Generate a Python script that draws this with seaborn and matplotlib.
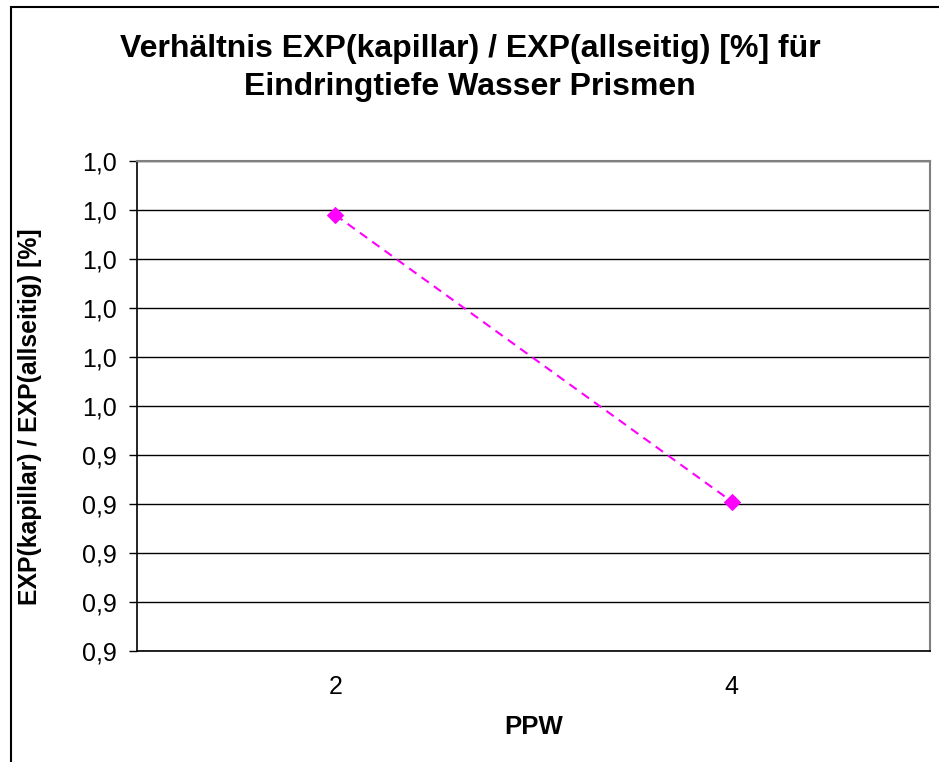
import matplotlib
matplotlib.use("Agg")
import matplotlib.pyplot as plt
import matplotlib.patches as patches
import seaborn as sns
import pandas as pd

# data
ppw = ["2", "4"]
ratio = [0.989, 0.9305]
y_ticks = [i / 100 for i in range(90, 101)]

title = "Verhältnis EXP(kapillar) / EXP(allseitig) [%] für\nEindringtiefe Wasser Prismen"
x_label = "PPW"
y_label = "EXP(kapillar) / EXP(allseitig) [%]"

sns.set_theme(style="white")
plt.rcParams['font.family'] = ['Liberation Sans', 'DejaVu Sans']
plt.rcParams['text.color'] = 'black'
plt.rcParams['axes.labelcolor'] = 'black'
plt.rcParams['xtick.color'] = 'black'
plt.rcParams['ytick.color'] = 'black'

df = pd.DataFrame({"PPW": ppw, "ratio": ratio})

fig = plt.figure(figsize=(9.39, 7.62), dpi=100)
ax = fig.add_axes([137 / 939, 1 - 651 / 762, 793 / 939, 490 / 762])

sns.lineplot(data=df, x="PPW", y="ratio", ax=ax, color="#FF00FF",
             linestyle=(0, (4.3, 3)), linewidth=1.5, marker="D", markersize=8.5,
             markeredgecolor="#FF00FF", sort=False)

ax.set_xlim(-0.5, 1.5)
ax.set_ylim(0.90, 1.00)
ax.set_yticks(y_ticks)
ax.set_yticklabels([f"{v + 1e-9:.1f}".replace(".", ",") for v in y_ticks], fontsize=18)
ax.yaxis.grid(True, color="black", linewidth=1)
ax.xaxis.grid(False)

ax.set_xticks([0, 1])
ax.set_xticklabels(ppw, fontsize=18)
ax.set_xticks([-0.5, 0.5, 1.5], minor=True)
ax.tick_params(axis="x", which="major", length=0, pad=17)
ax.tick_params(axis="x", which="minor", length=6, width=1, color="black", direction="out")
ax.tick_params(axis="y", length=6, width=1, color="black", direction="out", left=True, pad=8.5)

for side in ["top", "right"]:
    ax.spines[side].set_color("#808080")
    ax.spines[side].set_linewidth(1.5)
for side in ["left", "bottom"]:
    ax.spines[side].set_color("black")
    ax.spines[side].set_linewidth(1.2)

ax.set_xlabel(x_label, fontsize=18.5, fontweight="bold", labelpad=12)
ax.set_ylabel(y_label, fontsize=17.8, fontweight="bold", labelpad=29)
ax.yaxis.label.set_y((651 - 417) / 490)

fig.text(470 / 939, 1 - 68 / 762, title, ha="center", va="center",
         fontsize=23, fontweight="bold", linespacing=1.33)

# outer chart border (runs off the right and bottom edge)
fig.patches.append(patches.Rectangle((10.5 / 939, -0.05), 1.0, (762 - 6.5) / 762 + 0.05,
                                     transform=fig.transFigure, fill=False,
                                     edgecolor="black", linewidth=1.5))

fig.savefig("out.png", dpi=100, facecolor="white")
